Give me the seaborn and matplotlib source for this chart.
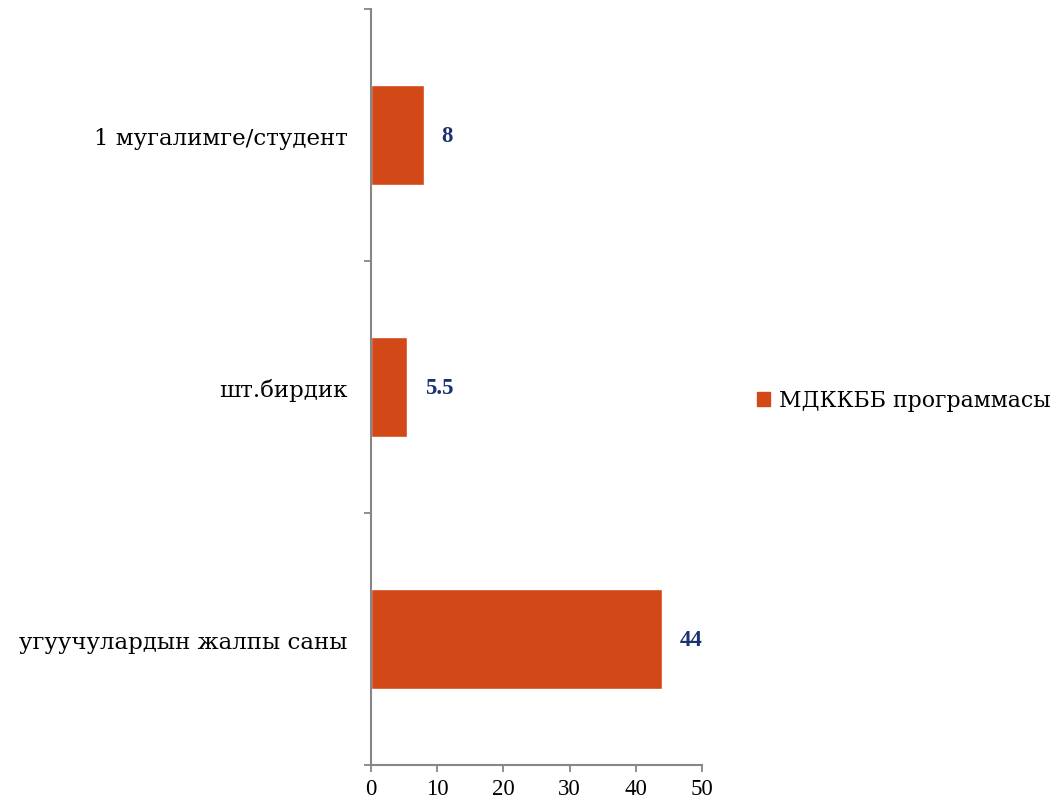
import pandas as pd
import matplotlib.pyplot as plt
import matplotlib.patches as mpatches
from matplotlib.ticker import FixedLocator
import seaborn as sns

# Chart data (top to bottom)
categories = ['1 мугалимге/студент', 'шт.бирдик', 'угуучулардын жалпы саны']
values = [8, 5.5, 44]
value_labels = ['8', '5.5', '44']
series_name = 'МДККББ программасы'
x_ticks = [0, 10, 20, 30, 40, 50]

bar_color = '#D34817'
label_color = '#1A3370'
axis_color = '#868686'

sns.set_style('white')
plt.rcParams['font.family'] = ['DejaVu Serif']
plt.rcParams['text.color'] = 'black'
plt.rcParams['xtick.color'] = 'black'
plt.rcParams['ytick.color'] = 'black'

df = pd.DataFrame({'category': categories, 'value': values})

fig = plt.figure(figsize=(10.58, 8.03), dpi=100)
ax = fig.add_axes([0.3507, 0.046, 0.3128, 0.9415])

sns.barplot(data=df, y='category', x='value', orient='h', color=bar_color,
            width=0.4, saturation=1, ax=ax)

ax.set_xlim(0, 50)
ax.set_ylim(len(categories) - 0.5, -0.5)
ax.set_xticks(x_ticks)
ax.set_xlabel('')
ax.set_ylabel('')

# category labels without ticks, tick marks on the category boundaries
ax.tick_params(axis='y', which='major', left=True, length=0, pad=17, labelsize=16.5)
ax.yaxis.set_minor_locator(FixedLocator([i - 0.5 for i in range(len(categories) + 1)]))
ax.tick_params(axis='y', which='minor', left=True, length=5, width=1.3,
               color=axis_color, direction='out')
ax.tick_params(axis='x', bottom=True, length=5, width=1.3, color=axis_color,
               direction='out', pad=4, labelsize=16.5,
               labelfontfamily='Liberation Serif')

for side in ['top', 'right']:
    ax.spines[side].set_visible(False)
for side in ['left', 'bottom']:
    ax.spines[side].set_color(axis_color)
    ax.spines[side].set_linewidth(1.5)

# value labels
for i, (v, lab) in enumerate(zip(values, value_labels)):
    ax.annotate(lab, xy=(v, i), xytext=(12.5, 0), textcoords='offset points',
                ha='left', va='center', fontsize=16.5, fontweight='bold',
                color=label_color, family='Liberation Serif')

handle = mpatches.Patch(color=bar_color, label=series_name)
fig.legend(handles=[handle], loc='center left', bbox_to_anchor=(0.6965, 0.5),
           frameon=False, fontsize=15.8, handlelength=0.6, handleheight=0.6,
           handletextpad=0.4)

plt.savefig('out.png', dpi=100)
